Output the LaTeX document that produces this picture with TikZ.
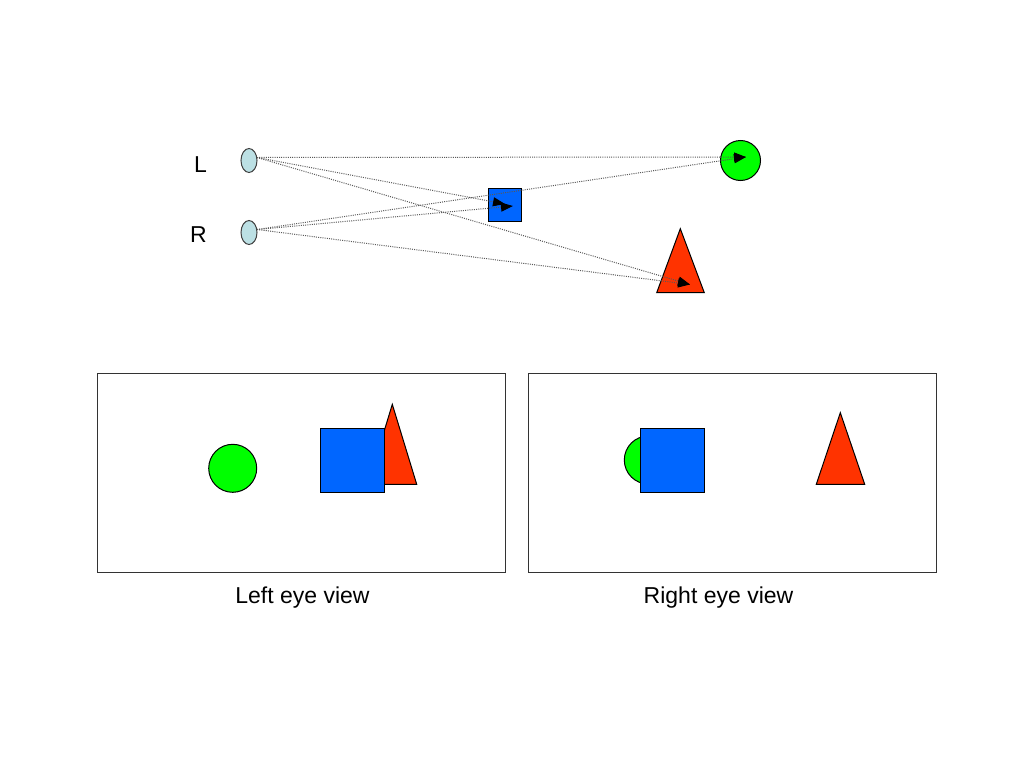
\documentclass[tikz,border=0pt]{standalone}
\usepackage{fontspec}
\setmainfont{Liberation Sans}
\usetikzlibrary{arrows.meta,shapes.geometric}
\definecolor{eyecol}{RGB}{188,224,228}
\definecolor{bluecol}{RGB}{0,102,255}
\definecolor{greencol}{RGB}{0,255,0}
\definecolor{redcol}{RGB}{255,51,0}
\tikzset{
  eye/.style={ellipse,draw=black!75,fill=eyecol,line width=1pt,minimum width=16pt,minimum height=24pt,inner sep=0pt},
  ray/.style={black!65,line width=1pt,dash pattern=on 1pt off 1.2pt,-{Triangle[length=12pt,width=9pt,fill=black,color=black]}},
  shp/.style={draw=black,line width=1pt},
  lbl/.style={font=\fontsize{23}{26}\selectfont,inner sep=0pt},
  frame/.style={draw=black!80,line width=1pt}
}
\begin{document}
\begin{tikzpicture}[x=1pt,y=-1pt]
\useasboundingbox (0,0) rectangle (1024,768);
% eyes
\node[eye] (eL) at (249,160.5) {};
\node[eye] (eR) at (249,232.5) {};
\node[lbl] (labL) at (200.5,165) {L};
\node[lbl] (labR) at (198.5,235) {R};
% objects
\node[shp,fill=bluecol,minimum width=33pt,minimum height=33pt,inner sep=0pt,anchor=north west] (sq) at (488,188) {};
\node[shp,fill=greencol,circle,minimum size=40pt,inner sep=0pt] (ci) at (740.5,160.5) {};
\draw[shp,fill=redcol] (680.3,228.7) coordinate (triA) -- (704.3,292.7) coordinate (triB) -- (656.7,292.7) coordinate (triC) -- cycle;
% ray start/end points
\coordinate (sL) at (257,157.5);
\coordinate (sR) at (257,229.5);
\coordinate (tC) at (746,157);
\coordinate (tSqL) at (505,204);
\coordinate (tSqR) at (513,206);
\coordinate (tTr) at (690,284.5);
\draw[ray] (sL) -- (tC);
\draw[ray] (sR) -- (tC);
\draw[ray] (sL) -- (tSqL);
\draw[ray] (sR) -- (tSqR);
\draw[ray] (sL) -- (tTr);
\draw[ray] (sR) -- (tTr);
% left eye view
\draw[frame] (97,373) rectangle (505,572);
\draw[shp,fill=greencol] (232.7,468.3) circle (24);
\draw[shp,fill=redcol] (392.3,404.3) -- (416.7,484.3) -- (368,484.3) -- cycle;
\draw[shp,fill=bluecol] (320,428.3) rectangle (384.7,492.3);
\node[lbl] (capL) at (302.5,597.5) {Left eye view};
% right eye view
\draw[frame] (528.3,373) rectangle (936.7,572);
\draw[shp,fill=greencol] (648.3,460) circle (24);
\draw[shp,fill=bluecol] (640,428.3) rectangle (704.3,492.3);
\draw[shp,fill=redcol] (840.3,412.7) -- (864.7,484.3) -- (816.3,484.3) -- cycle;
\node[lbl] (capR) at (718.5,597.5) {Right eye view};
\end{tikzpicture}
\end{document}
